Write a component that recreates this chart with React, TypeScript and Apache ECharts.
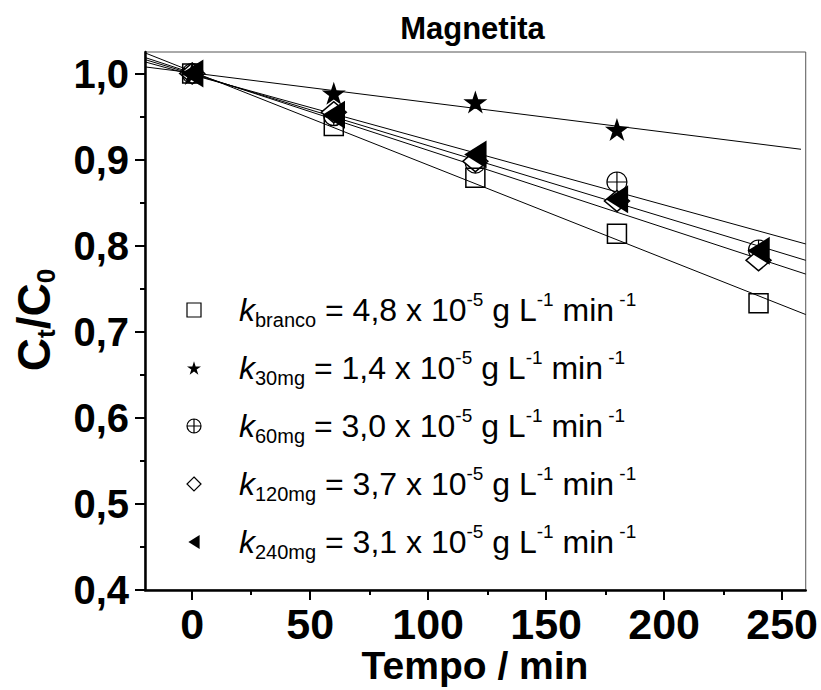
import React, { useEffect, useRef } from "react";
import * as echarts from "echarts";

// ---- data ----
const times = [0, 60, 120, 180, 240];
const timesStar = [0, 60, 120, 180];
const branco = [1.0, 0.939, 0.879, 0.814, 0.733];
const mg30 = [1.0, 0.977, 0.967, 0.935];
const mg60 = [1.0, 0.951, 0.896, 0.874, 0.795];
const mg120 = [1.0, 0.955, 0.898, 0.852, 0.783];
const mg240 = [1.0, 0.952, 0.906, 0.854, 0.794];

// fitted straight lines (end points)
const fitX = [-20, 260];
const fitXStar = [-20, 258];
const fitBranco = [1.024, 0.72];
const fit30 = [1.0077, 0.912];
const fit60 = [1.0135, 0.802];
const fit120 = [1.0186, 0.767];
const fit240 = [1.0162, 0.783];

// axes
const xTicks = [0, 50, 100, 150, 200, 250];
const xMinorTicks = [25, 75, 125, 175, 225];
const yTicks = [0.4, 0.5, 0.6, 0.7, 0.8, 0.9, 1.0];
const yMinorTicks = [0.45, 0.55, 0.65, 0.75, 0.85, 0.95];

// legend
const seriesNames = ["branco", "30mg", "60mg", "120mg", "240mg"];
const kValues = ["4,8", "1,4", "3,0", "3,7", "3,1"];

const FONT = "'Liberation Sans', Arial, Helvetica, sans-serif";
const STAR =
  "path://M100,0 L122.45,69.1 L195.11,69.1 L136.33,111.8 L158.78,180.9 L100,138.2 L41.22,180.9 L63.67,111.8 L4.89,69.1 L77.55,69.1 Z";
const OPLUS =
  "path://M0,10A10,10,0,1,1,20,10A10,10,0,1,1,0,10ZM10,0L10,20M0,10L20,10";
const TRI_LEFT = "path://M0,50 L80,0 L80,100 Z";

const zip = (xs: number[], ys: number[]) => xs.map((x, i) => [x, ys[i]]);

const X_MIN = -20;
const X_MAX = 260;
const Y_MIN = 0.4;
const Y_MAX = 1.025;

function fitSeries(name: string, xs: number[], ys: number[]) {
  return {
    name,
    type: "line",
    data: zip(xs, ys),
    showSymbol: false,
    symbol: "none",
    lineStyle: { color: "#000", width: 1 },
    z: 2,
    silent: true,
  };
}

function buildOption() {
  const grid = { left: 145, right: 15, top: 52, bottom: 100 };
  return {
    animation: false,
    backgroundColor: "#fff",
    grid: [
      { ...grid, show: true, borderColor: "#555", borderWidth: 1, backgroundColor: "transparent" },
      { ...grid, show: false },
    ],
    xAxis: [
      {
        type: "value",
        gridIndex: 0,
        min: X_MIN,
        max: X_MAX,
        axisLine: { show: true, onZero: false, lineStyle: { color: "#000", width: 2.5 } },
        axisTick: { show: true, customValues: xTicks, length: 10, lineStyle: { color: "#000", width: 2 } },
        axisLabel: {
          show: true,
          customValues: xTicks,
          margin: 12,
          color: "#000",
          fontFamily: FONT,
          fontWeight: "bold",
          fontSize: 43,
          formatter: (v: number) => String(v),
        },
        splitLine: { show: false },
      },
      {
        type: "value",
        gridIndex: 1,
        min: X_MIN,
        max: X_MAX,
        axisLine: { show: false, onZero: false },
        axisTick: { show: true, customValues: xMinorTicks, length: 5, lineStyle: { color: "#000", width: 2 } },
        axisLabel: { show: false },
        splitLine: { show: false },
      },
    ],
    yAxis: [
      {
        type: "value",
        gridIndex: 0,
        min: Y_MIN,
        max: Y_MAX,
        axisLine: { show: true, onZero: false, lineStyle: { color: "#000", width: 2.5 } },
        axisTick: { show: true, customValues: yTicks, length: 10, lineStyle: { color: "#000", width: 2 } },
        axisLabel: {
          show: true,
          customValues: yTicks,
          margin: 16,
          color: "#000",
          fontFamily: FONT,
          fontWeight: "bold",
          fontSize: 40,
          formatter: (v: number) => v.toFixed(1).replace(".", ","),
        },
        splitLine: { show: false },
      },
      {
        type: "value",
        gridIndex: 1,
        min: Y_MIN,
        max: Y_MAX,
        axisLine: { show: false, onZero: false },
        axisTick: { show: true, customValues: yMinorTicks, length: 5, lineStyle: { color: "#000", width: 2 } },
        axisLabel: { show: false },
        splitLine: { show: false },
      },
    ],
    legend: {
      orient: "vertical",
      left: 184.5,
      top: 290,
      padding: 0,
      itemGap: 18,
      itemWidth: 14,
      itemHeight: 14,
      selectedMode: false,
      data: seriesNames,
      itemStyle: { borderWidth: 1.2, opacity: 1 },
      formatter: (name: string) => {
        const i = seriesNames.indexOf(name);
        return `{g| }{k|k}{s|${name}}{m| = ${kValues[i]} x 10}{p|-5}{m| g L}{p|-1}{m| min}{p| -1}`;
      },
      textStyle: {
        color: "#000",
        fontFamily: FONT,
        fontSize: 32,
        lineHeight: 40,
        rich: {
          g: { width: 33, fontSize: 32, lineHeight: 40 },
          k: { fontStyle: "italic", fontSize: 32, lineHeight: 40, fontFamily: FONT, color: "#000" },
          s: { fontSize: 20, lineHeight: 10, verticalAlign: "bottom", fontFamily: FONT, color: "#000" },
          m: { fontSize: 32, lineHeight: 40, fontFamily: FONT, color: "#000" },
          p: { fontSize: 19, lineHeight: 11, verticalAlign: "top", fontFamily: FONT, color: "#000" },
        },
      },
    },
    graphic: [
      {
        type: "text",
        x: 472.5,
        y: 28.5,
        style: {
          text: "Magnetita",
          fill: "#000",
          font: `bold 31px ${FONT}`,
          align: "center",
          verticalAlign: "middle",
        },
      },
      {
        type: "text",
        x: 475,
        y: 665.5,
        style: {
          text: "Tempo / min",
          fill: "#000",
          font: `bold 39px ${FONT}`,
          align: "center",
          verticalAlign: "middle",
        },
      },
      {
        type: "text",
        x: 34,
        y: 320,
        rotation: Math.PI / 2,
        style: {
          text: "{c|C}{s|t}{c|/C}{s|0}",
          fill: "#000",
          align: "center",
          verticalAlign: "middle",
          rich: {
            c: { fontSize: 46, fontWeight: "bold", lineHeight: 50, fontFamily: FONT, fill: "#000" },
            s: { fontSize: 26, fontWeight: "bold", lineHeight: 16, verticalAlign: "bottom", fontFamily: FONT, fill: "#000" },
          },
        },
      },
    ],
    series: [
      fitSeries("fit-branco", fitX, fitBranco),
      fitSeries("fit-30", fitXStar, fit30),
      fitSeries("fit-60", fitX, fit60),
      fitSeries("fit-120", fitX, fit120),
      fitSeries("fit-240", fitX, fit240),
      {
        name: "60mg",
        type: "scatter",
        data: zip(times, mg60),
        symbol: OPLUS,
        symbolSize: 20,
        itemStyle: { color: "none", borderColor: "#000", borderWidth: 1.2, opacity: 1 },
        z: 3,
      },
      {
        name: "120mg",
        type: "scatter",
        data: zip(times, mg120),
        symbol: "diamond",
        symbolSize: [25, 21],
        itemStyle: { color: "#fff", borderColor: "#000", borderWidth: 1.5, opacity: 1 },
        z: 3,
      },
      {
        name: "30mg",
        type: "scatter",
        data: zip(timesStar, mg30),
        symbol: STAR,
        symbolSize: [24, 23],
        itemStyle: { color: "#000", opacity: 1 },
        z: 3,
      },
      {
        name: "branco",
        type: "scatter",
        data: zip(times, branco),
        symbol: "rect",
        symbolSize: 19,
        itemStyle: { color: "none", borderColor: "#000", borderWidth: 1.5, opacity: 1 },
        z: 3,
      },
      {
        name: "240mg",
        type: "scatter",
        data: zip(times, mg240),
        symbol: TRI_LEFT,
        symbolKeepAspect: true,
        symbolSize: [28, 28],
        itemStyle: { color: "#000", opacity: 1 },
        z: 3,
      },
    ],
  };
}

export default function App() {
  const ref = useRef<HTMLDivElement>(null);
  useEffect(() => {
    if (!ref.current) return;
    const chart = echarts.init(ref.current, null, { renderer: "svg" });
    chart.setOption(buildOption() as any);
    return () => chart.dispose();
  }, []);
  return (
    <div
      ref={ref}
      style={{ position: "fixed", left: 0, top: 0, width: 821, height: 690, background: "#fff" }}
    />
  );
}
